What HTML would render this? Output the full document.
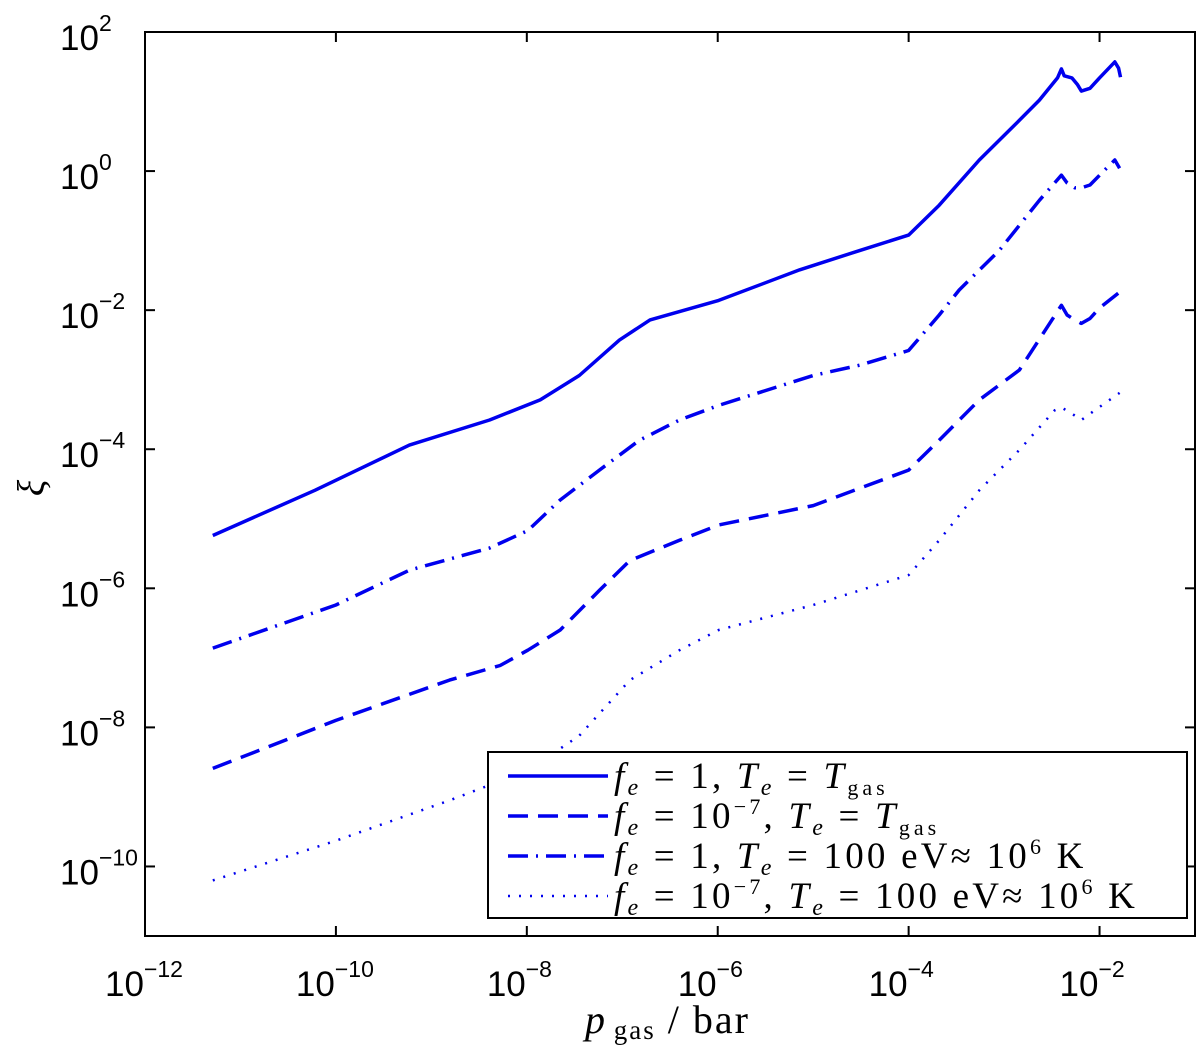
<!DOCTYPE html>
<html><head><meta charset="utf-8"><style>
body{margin:0;background:#fff;}
svg{display:block;}
.tk{font-family:"Liberation Sans",sans-serif;font-size:35px;fill:#000;}
.sp{font-size:23px;}
.lg{font-family:"Liberation Serif",serif;font-size:37px;fill:#000;letter-spacing:3.2px;}
</style></head><body>
<svg id="chart" width="1200" height="1050" viewBox="0 0 1200 1050" xmlns="http://www.w3.org/2000/svg">
<g id="axes"></g>
<g id="series"></g>
<rect x="145" y="32" width="1050" height="904" fill="none" stroke="#000" stroke-width="2"/>
<text x="585" y="1033" font-family="Liberation Serif,serif" font-size="40"><tspan font-style="italic">p</tspan><tspan font-size="27" dy="6" letter-spacing="2"> gas</tspan><tspan dy="-6" letter-spacing="2"> /  bar</tspan></text>
<text transform="translate(44,488) rotate(-90)" font-family="Liberation Serif,serif" font-style="italic" font-size="38" text-anchor="middle">ξ</text>
<g id="legend">
<rect x="488" y="752" width="699" height="166" fill="#fff" stroke="#000" stroke-width="2"/>
</g>
</svg>
<script>
const xTicks=[-12,-10,-8,-6,-4,-2];
const yTicks=[2,0,-2,-4,-6,-8,-10];
const solidX=[-11.29,-10.22,-9.23,-8.39,-7.86,-7.45,-7.03,-6.71,-5.99,-5.14,-4.51,-4.0,-3.68,-3.26,-2.84,-2.63,-2.44,-2.40,-2.37,-2.29,-2.23,-2.19,-2.10,-2.0,-1.84,-1.80,-1.78];
const solidY=[-5.24,-4.59,-3.94,-3.58,-3.29,-2.94,-2.43,-2.14,-1.86,-1.42,-1.14,-0.92,-0.49,0.16,0.73,1.02,1.34,1.47,1.37,1.34,1.24,1.15,1.19,1.34,1.57,1.48,1.35];
const dashDotX=[-11.29,-10.0,-9.23,-8.39,-7.99,-7.65,-7.24,-6.82,-6.40,-5.99,-5.0,-4.51,-4.0,-3.68,-3.47,-3.05,-2.63,-2.40,-2.34,-2.26,-2.19,-2.10,-1.95,-1.84,-1.79];
const dashDotY=[-6.86,-6.24,-5.74,-5.42,-5.17,-4.73,-4.30,-3.87,-3.58,-3.37,-2.94,-2.79,-2.58,-2.07,-1.71,-1.14,-0.42,-0.06,-0.17,-0.24,-0.24,-0.20,0.01,0.16,0.04];
const dashedX=[-11.29,-10.0,-8.81,-8.28,-7.99,-7.65,-7.24,-6.92,-6.40,-5.99,-5.0,-4.0,-3.68,-3.26,-2.84,-2.40,-2.34,-2.26,-2.19,-2.10,-2.0,-1.79];
const dashedY=[-8.59,-7.90,-7.32,-7.11,-6.89,-6.60,-6.03,-5.60,-5.31,-5.09,-4.81,-4.30,-3.87,-3.29,-2.86,-1.93,-2.07,-2.14,-2.19,-2.12,-1.97,-1.74];
const dottedX=[-11.29,-10.0,-8.81,-7.99,-7.45,-6.92,-6.40,-5.99,-5.0,-4.0,-3.68,-3.26,-2.84,-2.47,-2.40,-2.31,-2.19,-2.05,-1.79];
const dottedY=[-10.20,-9.63,-9.05,-8.62,-8.12,-7.32,-6.89,-6.60,-6.24,-5.81,-5.31,-4.59,-4.01,-3.44,-3.40,-3.47,-3.58,-3.44,-3.19];

const NS="http://www.w3.org/2000/svg";
const X0=145,X1=1195,Y0=32,Y1=936,XMIN=-12,XMAX=-1,YMIN=-11,YMAX=2;
function sx(v){return X0+(v-XMIN)/(XMAX-XMIN)*(X1-X0);}
function sy(v){return Y1-(v-YMIN)/(YMAX-YMIN)*(Y1-Y0);}
function mk(tag,attrs,parent){const e=document.createElementNS(NS,tag);for(const k in attrs)e.setAttribute(k,attrs[k]);parent.appendChild(e);return e;}
const axes=document.getElementById('axes');
xTicks.forEach(t=>{
  const x=sx(t);
  const l1=mk('line',{x1:x,x2:x,y1:Y1,y2:Y1-10,stroke:'#000','stroke-width':2},axes);
  
  
  const l2=mk('line',{x1:x,x2:x,y1:Y0,y2:Y0+10,stroke:'#000','stroke-width':2},axes);
  
  
  const tx=mk('text',{x:x-40,y:996,class:'tk'},axes);
  
  
  tx.innerHTML='10<tspan class="sp" dy="-19">'+(t<0?'\u2212'+(-t):t)+'</tspan>';
});
yTicks.forEach(t=>{
  const y=sy(t);
  const l1=mk('line',{x1:X0,x2:X0+10,y1:y,y2:y,stroke:'#000','stroke-width':2},axes);
  
  
  const l2=mk('line',{x1:X1,x2:X1-10,y1:y,y2:y,stroke:'#000','stroke-width':2},axes);
  
  
  const tx=mk('text',{x:60,y:y+18,class:'tk'},axes);
  
  
  tx.innerHTML='10<tspan class="sp" dy="-19">'+(t<0?'\u2212'+(-t):t)+'</tspan>';
});
const styles={solid:{d:'',w:3.5},dashed:{d:'20 10',w:3.5},dashdot:{d:'20 8 2 8',w:3.5},dotted:{d:'2 9',w:2.5}};
const ser=document.getElementById('series');
function line(xs,ys,st,name){
  const pts=xs.map((x,i)=>sx(x).toFixed(1)+','+sy(ys[i]).toFixed(1)).join(' ');
  const p=mk('polyline',{points:pts,fill:'none',stroke:'#0000ee','stroke-width':styles[st].w,'stroke-dasharray':styles[st].d,'stroke-linejoin':'round'},ser);
  
  
}
line(solidX,solidY,'solid','series-fe1-tgas');
line(dashDotX,dashDotY,'dashdot','series-fe1-100ev');
line(dashedX,dashedY,'dashed','series-fe1e-7-tgas');
line(dottedX,dottedY,'dotted','series-fe1e-7-100ev');
const leg=document.getElementById('legend');
const fe='<tspan font-style="italic">f</tspan><tspan font-style="italic" font-size="24" dy="7">e</tspan>';
const te='<tspan font-style="italic">T</tspan><tspan font-style="italic" font-size="24" dy="7">e</tspan>';
const tg='<tspan font-style="italic">T</tspan><tspan font-size="22" dy="7" letter-spacing="4">gas</tspan>';
const entries=[
 ['solid',fe+'<tspan dy="-7"> = 1, </tspan>'+te+'<tspan dy="-7"> = </tspan>'+tg],
 ['dashed',fe+'<tspan dy="-7"> = 10</tspan><tspan font-size="22" dy="-14">−7</tspan><tspan dy="14">, </tspan>'+te+'<tspan dy="-7"> = </tspan>'+tg],
 ['dashdot',fe+'<tspan dy="-7"> = 1, </tspan>'+te+'<tspan dy="-7"> = 100 eV≈ 10</tspan><tspan font-size="22" dy="-14">6</tspan><tspan dy="14"> K</tspan>'],
 ['dotted',fe+'<tspan dy="-7"> = 10</tspan><tspan font-size="22" dy="-14">−7</tspan><tspan dy="14">, </tspan>'+te+'<tspan dy="-7"> = 100 eV≈ 10</tspan><tspan font-size="22" dy="-14">6</tspan><tspan dy="14"> K</tspan>']
];
entries.forEach((e,i)=>{
  const y=776+i*40;
  const l=mk('line',{x1:508,x2:608,y1:y,y2:y,stroke:'#0000ee','stroke-width':styles[e[0]].w,'stroke-dasharray':styles[e[0]].d},leg);
  
  
  const t=mk('text',{x:614,y:y+12,class:'lg'},leg);
  
  
  t.innerHTML=e[1];
});
</script>
</body></html>
